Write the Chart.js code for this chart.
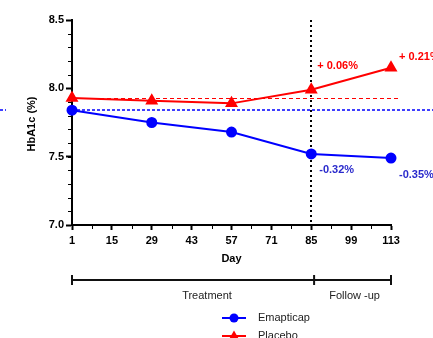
<!DOCTYPE html>
<html>
<head>
<meta charset="utf-8">
<script src="https://cdn.jsdelivr.net/npm/chart.js@4/dist/chart.umd.min.js"></script>
<style>
  html, body { margin: 0; padding: 0; background: #fff; }
  #wrap { width: 433px; height: 338px; }
</style>
</head>
<body>
<div id="wrap"><canvas id="c" width="433" height="338"></canvas></div>
<script>
// values
const days = [1, 29, 57, 85, 113];
const emapticap = [7.84, 7.75, 7.68, 7.52, 7.49];
const placebo = [7.93, 7.91, 7.89, 7.99, 8.15];
const xTicks = [1, 15, 29, 43, 57, 71, 85, 99, 113];
const yTicks = [7.0, 7.5, 8.0, 8.5];
const phaseBounds = [1, 86, 113];
const phaseNames = ["Treatment", "Follow -up"];
const placeboNotes = ["+ 0.06%", "+ 0.21%"];
const emapNotes = ["-0.32%", "-0.35%"];

const BLUE = "#0000ff";
const RED = "#ff0000";
const FONT = "'Liberation Sans', Arial, sans-serif";

const extras = {
  id: "extras",
  beforeDatasetsDraw(chart) {
    const { ctx, chartArea: a, scales: { x, y } } = chart;
    ctx.save();
    // baseline reference lines
    ctx.lineWidth = 1;
    ctx.strokeStyle = RED;
    ctx.setLineDash([4, 3]);
    let yy = Math.round(y.getPixelForValue(placebo[0])) + 0.5;
    ctx.beginPath(); ctx.moveTo(a.left, yy); ctx.lineTo(a.right + 9, yy); ctx.stroke();
    ctx.strokeStyle = BLUE;
    ctx.lineWidth = 1.5;
    ctx.setLineDash([3, 2]);
    yy = Math.round(y.getPixelForValue(emapticap[0]));
    ctx.beginPath(); ctx.moveTo(0, yy); ctx.lineTo(6, yy); ctx.stroke();
    ctx.beginPath(); ctx.moveTo(a.left, yy); ctx.lineTo(chart.width, yy); ctx.stroke();
    // end of treatment
    ctx.strokeStyle = "#000";
    ctx.lineWidth = 2;
    ctx.setLineDash([2, 3]);
    const xv = Math.round(x.getPixelForValue(85));
    ctx.beginPath(); ctx.moveTo(xv, a.top); ctx.lineTo(xv, a.bottom); ctx.stroke();
    ctx.restore();
  },
  afterDraw(chart) {
    const { ctx, chartArea: a, scales: { x, y } } = chart;
    ctx.save();
    // minor ticks
    ctx.strokeStyle = "#000";
    ctx.lineWidth = 1;
    for (let v = 7.1; v < 8.5; v += 0.1) {
      const p = Math.round(y.getPixelForValue(v)) + 0.5;
      ctx.beginPath(); ctx.moveTo(a.left - 4, p); ctx.lineTo(a.left, p); ctx.stroke();
    }
    for (let i = 0; i < xTicks.length - 1; i++) {
      const p = Math.round(x.getPixelForValue((xTicks[i] + xTicks[i + 1]) / 2)) + 0.5;
      ctx.beginPath(); ctx.moveTo(p, a.bottom); ctx.lineTo(p, a.bottom + 4); ctx.stroke();
    }
    // axis titles
    ctx.fillStyle = "#000";
    ctx.font = "bold 11px " + FONT;
    ctx.textAlign = "center";
    ctx.textBaseline = "middle";
    ctx.fillText("Day", (a.left + a.right) / 2, 259);
    ctx.save();
    ctx.translate(32, 124);
    ctx.rotate(-Math.PI / 2);
    ctx.fillText("HbA1c (%)", 0, 0);
    ctx.restore();
    // phase bracket
    const by = 280;
    ctx.lineWidth = 2;
    ctx.strokeStyle = "#111";
    const bx = phaseBounds.map(v => x.getPixelForValue(v));
    ctx.beginPath(); ctx.moveTo(bx[0], by); ctx.lineTo(bx[2], by); ctx.stroke();
    bx.forEach(p => { ctx.beginPath(); ctx.moveTo(p, by - 5); ctx.lineTo(p, by + 5); ctx.stroke(); });
    ctx.font = "11px " + FONT;
    ctx.fillStyle = "#222";
    ctx.fillText(phaseNames[0], 207, 296);
    ctx.fillText(phaseNames[1], (bx[1] + bx[2]) / 2 + 2, 296);
    // change labels
    ctx.font = "bold 11px " + FONT;
    ctx.textAlign = "left";
    ctx.fillStyle = RED;
    ctx.fillText(placeboNotes[0], x.getPixelForValue(85) + 6, y.getPixelForValue(placebo[3]) - 24);
    ctx.fillText(placeboNotes[1], x.getPixelForValue(113) + 8, y.getPixelForValue(placebo[4]) - 11);
    ctx.fillStyle = "#2a2acc";
    ctx.fillText(emapNotes[0], x.getPixelForValue(85) + 8, y.getPixelForValue(emapticap[3]) + 16);
    ctx.fillText(emapNotes[1], x.getPixelForValue(113) + 8, y.getPixelForValue(emapticap[4]) + 17);
    // legend
    const items = [
      { label: "Emapticap", color: BLUE, shape: "circle", ly: 318 },
      { label: "Placebo", color: RED, shape: "triangle", ly: 336 }
    ];
    ctx.font = "11px " + FONT;
    items.forEach(it => {
      ctx.strokeStyle = it.color;
      ctx.lineWidth = 2;
      ctx.beginPath(); ctx.moveTo(222, it.ly); ctx.lineTo(246, it.ly); ctx.stroke();
      ctx.fillStyle = it.color;
      ctx.beginPath();
      if (it.shape === "circle") ctx.arc(234, it.ly, 4.5, 0, Math.PI * 2);
      else { ctx.moveTo(234, it.ly - 5.5); ctx.lineTo(239.5, it.ly + 4); ctx.lineTo(228.5, it.ly + 4); ctx.closePath(); }
      ctx.fill();
      ctx.fillStyle = "#222";
      ctx.fillText(it.label, 258, it.ly);
    });
    ctx.restore();
  }
};

new Chart(document.getElementById("c"), {
  type: "line",
  data: {
    labels: days,
    datasets: [
      {
        label: "Emapticap",
        data: days.map((d, i) => ({ x: d, y: emapticap[i] })),
        borderColor: BLUE, backgroundColor: BLUE, clip: false,
        borderWidth: 2, pointStyle: "circle", pointRadius: 4.5, pointHoverRadius: 4.5
      },
      {
        label: "Placebo",
        data: days.map((d, i) => ({ x: d, y: placebo[i] })),
        borderColor: RED, backgroundColor: RED, clip: false,
        borderWidth: 2, pointStyle: "triangle", pointRadius: 5.5, pointHoverRadius: 5.5
      }
    ]
  },
  options: {
    responsive: false,
    animation: false,
    events: [],
    layout: { padding: { top: 20, right: 42, left: 0, bottom: 0 } },
    plugins: { legend: { display: false }, tooltip: { enabled: false } },
    scales: {
      x: {
        type: "linear", min: 1, max: 113,
        afterBuildTicks: s => { s.ticks = xTicks.map(v => ({ value: v })); },
        afterFit: s => { s.height = 113; },
        grid: { drawOnChartArea: false, drawTicks: true, tickLength: 5, tickWidth: 2, tickColor: "#000" },
        border: { display: true, color: "#000", width: 2 },
        ticks: { color: "#000", padding: 4, maxRotation: 0, font: { family: FONT, size: 11, weight: "bold" } }
      },
      y: {
        min: 7.0, max: 8.5,
        afterBuildTicks: s => { s.ticks = yTicks.map(v => ({ value: v })); },
        afterFit: s => { s.width = 72; },
        grid: { drawOnChartArea: false, drawTicks: true, tickLength: 6, tickWidth: 2, tickColor: "#000" },
        border: { display: true, color: "#000", width: 2 },
        ticks: { color: "#000", padding: 2, callback: v => v.toFixed(1), font: { family: FONT, size: 11, weight: "bold" } }
      }
    }
  },
  plugins: [extras]
});
</script>
</body>
</html>
